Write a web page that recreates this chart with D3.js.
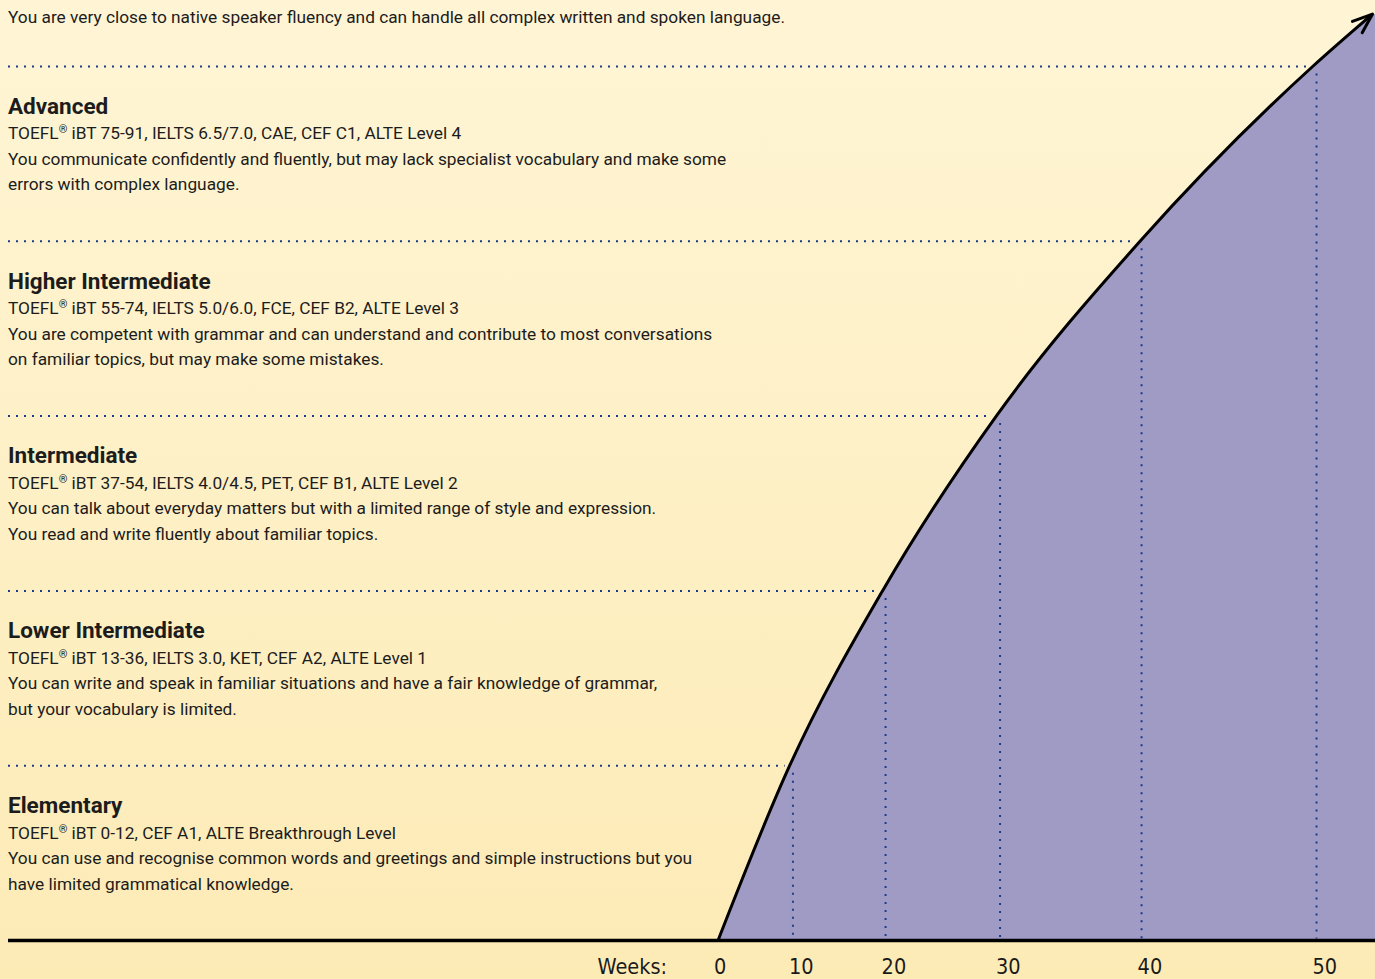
<!DOCTYPE html>
<html>
<head>
<meta charset="utf-8">
<script src="https://cdn.jsdelivr.net/npm/d3@7"></script>
<style>
  html, body { margin: 0; padding: 0; overflow: hidden; }
  svg { display: block; }
</style>
</head>
<body>
<svg id="chart" width="1375" height="979"></svg>
<script>
// ---------- data ----------
const levelNames = ["Elementary", "Lower Intermediate", "Intermediate", "Higher Intermediate", "Advanced", "Proficiency"];
const examLines = [
  "iBT 0-12, CEF A1, ALTE Breakthrough Level",
  "iBT 13-36, IELTS 3.0, KET, CEF A2, ALTE Level 1",
  "iBT 37-54, IELTS 4.0/4.5, PET, CEF B1, ALTE Level 2",
  "iBT 55-74, IELTS 5.0/6.0, FCE, CEF B2, ALTE Level 3",
  "iBT 75-91, IELTS 6.5/7.0, CAE, CEF C1, ALTE Level 4",
  "iBT 92-120, IELTS 7.5/9.0, CPE, CEF C2, ALTE Level 5"
];
const descLines = [
  ["You can use and recognise common words and greetings and simple instructions but you", "have limited grammatical knowledge."],
  ["You can write and speak in familiar situations and have a fair knowledge of grammar,", "but your vocabulary is limited."],
  ["You can talk about everyday matters but with a limited range of style and expression.", "You read and write fluently about familiar topics."],
  ["You are competent with grammar and can understand and contribute to most conversations", "on familiar topics, but may make some mistakes."],
  ["You communicate confidently and fluently, but may lack specialist vocabulary and make some", "errors with complex language."],
  ["You are very close to native speaker fluency and can handle all complex written and spoken language."]
];
const weekTicks = [0, 10, 20, 30, 40, 50];
const axisLabel = "Weeks:";
// learning curve: week at which each level is reached (last point = arrow tip)
const curveWeeks  = [0, 9.6, 19.7, 29.7, 39.9, 49.8, 52.8];
const curveLevels = [0, 1, 2, 3, 4, 5, 5.3];

// ---------- layout ----------
const W = 1375, H = 979;
const FONT = "Roboto, Lato, sans-serif";
const AXIS_FONT = "'DejaVu Sans Condensed', 'DejaVu Sans', sans-serif";
const svg = d3.select("#chart");

const growth = 1.236; // each 10 weeks spans ~23.6% more width
const xBase = d3.scaleLinear().domain([1, Math.pow(growth, 5)]).range([718, 1316.5]);
const x = w => xBase(Math.pow(growth, w / 10));
const y = d3.scaleLinear().domain([0, 5]).range([940.5, 66.5]);

const defs = svg.append("defs");
const grad = defs.append("linearGradient").attr("id", "bg").attr("x1", 0).attr("y1", 0).attr("x2", 0).attr("y2", 1);
grad.append("stop").attr("offset", "0%").attr("stop-color", "#fff5d5");
grad.append("stop").attr("offset", "100%").attr("stop-color", "#fdebb6");
defs.append("marker").attr("id", "arrow")
  .attr("markerUnits", "userSpaceOnUse")
  .attr("viewBox", "-22 -11 25 22").attr("refX", 0).attr("refY", 0)
  .attr("markerWidth", 25).attr("markerHeight", 22).attr("orient", "auto")
  .append("path").attr("d", "M-20,-7.5L0,0L-20,7.5")
  .attr("fill", "none").attr("stroke", "#000").attr("stroke-width", 3)
  .attr("stroke-linecap", "round").attr("stroke-linejoin", "round");

svg.append("rect").attr("width", W).attr("height", H).attr("fill", "url(#bg)");

const pts = curveWeeks.map((w, i) => ({ w, l: curveLevels[i] }));
const tip = pts[pts.length - 1];

// filled region under / right of the curve
svg.append("path").datum(pts)
  .attr("fill", "#a09bc5")
  .attr("d", d3.area().x(d => x(d.w)).y0(y(0)).y1(d => y(d.l)).curve(d3.curveMonotoneX));
svg.append("rect")
  .attr("x", x(tip.w) - 0.5).attr("y", y(tip.l))
  .attr("width", W - x(tip.w) + 1).attr("height", y(0) - y(tip.l))
  .attr("fill", "#a09bc5");

// dotted level lines
const dotColor = "#1d3b8b";
const lvl = d3.range(1, 6);
svg.append("g").selectAll("line").data(lvl).join("line")
  .attr("x1", 8).attr("x2", l => x(curveWeeks[l]) - 5)
  .attr("y1", l => y(l)).attr("y2", l => y(l))
  .attr("stroke", dotColor).attr("stroke-width", 2).attr("stroke-dasharray", "2,6");
svg.append("g").selectAll("line").data(weekTicks.filter(w => w > 0)).join("line")
  .attr("x1", w => x(w)).attr("x2", w => x(w))
  .attr("y1", w => y(w / 10) + 7).attr("y2", y(0) - 2)
  .attr("stroke", dotColor).attr("stroke-width", 2).attr("stroke-dasharray", "2,6");

// curve with arrow
svg.append("path").datum(pts)
  .attr("fill", "none").attr("stroke", "#000").attr("stroke-width", 3)
  .attr("marker-end", "url(#arrow)")
  .attr("d", d3.line().x(d => x(d.w)).y(d => y(d.l)).curve(d3.curveMonotoneX));

// baseline axis
svg.append("line").attr("x1", 8).attr("x2", W).attr("y1", y(0)).attr("y2", y(0))
  .attr("stroke", "#000").attr("stroke-width", 3.5);

// tick labels
const axisG = svg.append("g").attr("font-family", AXIS_FONT).attr("font-size", 21.5).attr("fill", "#1a1a1a");
axisG.selectAll("text").data(weekTicks).join("text")
  .attr("x", w => x(w) - 4).attr("y", 974).text(w => w);
axisG.append("text").attr("x", 667).attr("y", 974).attr("text-anchor", "end").text(axisLabel);

// level text blocks (bottom-anchored to the level line below)
const lineGap = 25.5;
levelNames.forEach((name, i) => {
  const lines = [{ t: name, kind: "title" }, { t: examLines[i], kind: "exam" }]
    .concat(descLines[i].map(t => ({ t, kind: "desc" })));
  const gap = i === 5 ? 44 : 51;
  const last = y(i) - gap;
  const g = svg.append("g").attr("font-family", FONT).attr("fill", "#1c1c1c");
  lines.forEach((ln, k) => {
    const by = last - (lines.length - 1 - k) * lineGap;
    const t = g.append("text").attr("x", 8).attr("y", by);
    if (ln.kind === "title") {
      t.attr("font-size", 22.5).attr("font-weight", "bold").text(ln.t);
    } else if (ln.kind === "exam") {
      t.attr("font-size", 17.3);
      t.append("tspan").text("TOEFL");
      t.append("tspan").attr("font-size", 11).attr("dy", -6).text("®");
      t.append("tspan").attr("dy", 6).text(" " + ln.t);
    } else {
      t.attr("font-size", 17.3).text(ln.t);
    }
  });
});
</script>
</body>
</html>
